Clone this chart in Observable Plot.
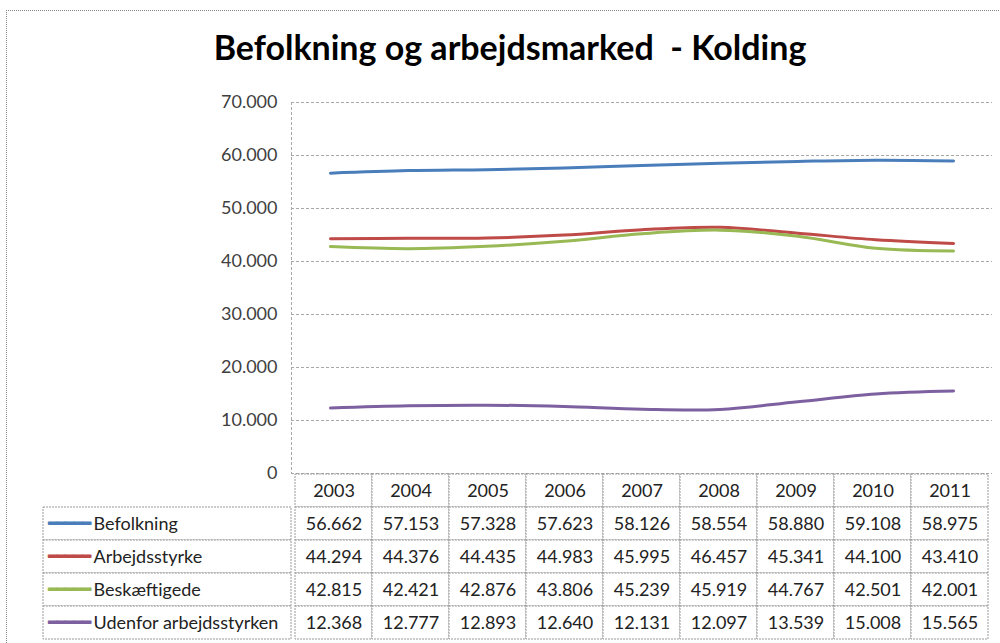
<!DOCTYPE html>
<html>
<head>
<meta charset="utf-8">
<script src="https://cdn.jsdelivr.net/npm/d3@7"></script>
<script src="https://cdn.jsdelivr.net/npm/@observablehq/plot@0.6"></script>
<style>
  html, body { margin: 0; padding: 0; background: #fff; }
  #root { position: relative; width: 1000px; height: 643px; overflow: hidden; font-family: Lato, sans-serif; }
  #border { position: absolute; left: 6px; top: 10px; width: 1100px; height: 800px; border-left: 1px dotted #888; border-top: 1px dotted #888; }
  #title { position: absolute; left: 20px; top: 26px; width: 980px; text-align: center; font-weight: bold; font-size: 34px; color: #000; font-family: Lato, sans-serif; }
  .abs { position: absolute; }
</style>
</head>
<body>
<div id="root">
  <div id="border"></div>
  <div id="title">Befolkning og arbejdsmarked&nbsp; - Kolding</div>
  <div id="chart" class="abs" style="left:0;top:0"></div>
  <div id="legend" class="abs" style="left:0;top:472px"></div>
  <div id="table" class="abs" style="left:290px;top:472px"></div>
</div>
<script>
const years = [2003, 2004, 2005, 2006, 2007, 2008, 2009, 2010, 2011];
const seriesNames = ["Befolkning", "Arbejdsstyrke", "Beskæftigede", "Udenfor arbejdsstyrken"];
const seriesColors = ["#4a7ebb", "#be4b48", "#98b954", "#7d60a0"];
const befolkning = [56662, 57153, 57328, 57623, 58126, 58554, 58880, 59108, 58975];
const arbejdsstyrke = [44294, 44376, 44435, 44983, 45995, 46457, 45341, 44100, 43410];
const beskaeftigede = [42815, 42421, 42876, 43806, 45239, 45919, 44767, 42501, 42001];
const udenfor = [12368, 12777, 12893, 12640, 12131, 12097, 13539, 15008, 15565];
const yTicks = [0, 10000, 20000, 30000, 40000, 50000, 60000, 70000];

const seriesValues = [befolkning, arbejdsstyrke, beskaeftigede, udenfor];
const fmt = v => v === 0 ? "0" : d3.format(",")(v).replace(/,/g, ".");

const long = [];
seriesNames.forEach((name, s) => years.forEach((yr, i) => long.push({name, year: yr, value: seriesValues[s][i]})));

const ext = d3.extent(years);
const xDomain = [ext[0] - 0.5, ext[1] + 0.5];
const color = {domain: seriesNames, range: seriesColors};

const chart = Plot.plot({
  width: 1000, height: 493,
  marginTop: 102, marginBottom: 20, marginLeft: 291, marginRight: 8,
  style: {background: "transparent", fontFamily: "Lato, sans-serif", fontSize: "18px", color: "#404040"},
  x: {domain: xDomain, axis: null},
  y: {domain: [yTicks[0], yTicks[yTicks.length - 1]], ticks: yTicks, tickSize: 0, tickPadding: 14, tickFormat: fmt, label: null},
  color,
  marks: [
    Plot.ruleY(yTicks, {stroke: "#a8a8a8", strokeDasharray: "3,2", strokeWidth: 1}),
    Plot.ruleX([xDomain[0]], {stroke: "#a8a8a8", strokeDasharray: "3,2"}),
    Plot.line(long, {x: "year", y: "value", z: "name", stroke: "name", strokeWidth: 3, curve: "catmull-rom"})
  ]
});
document.getElementById("chart").appendChild(chart);

const rowDomain = ["", ...seriesNames];
const legend = Plot.plot({
  width: 292, height: 171,
  marginTop: 1, marginBottom: 3, marginLeft: 43, marginRight: 1,
  style: {background: "transparent", fontFamily: "Lato, sans-serif", fontSize: "18px"},
  y: {domain: rowDomain, padding: 0, axis: null},
  color,
  marks: [
    Plot.cell(seriesNames, {y: d => d, fill: "white", stroke: "#999", strokeDasharray: "2,1"}),
    Plot.text(seriesNames, {y: d => d, text: () => "━━━━━", fill: d => d, stroke: d => d, strokeWidth: 1.2, frameAnchor: "left", textAnchor: "start", dx: 5, fontFamily: "DejaVu Sans Mono", fontSize: 14}),
    Plot.text(seriesNames, {y: d => d, text: d => d, fill: "#222", frameAnchor: "left", textAnchor: "start", dx: 50})
  ]
});
document.getElementById("legend").appendChild(legend);

const table = Plot.plot({
  width: 710, height: 171,
  marginTop: 1, marginBottom: 3, marginLeft: 1, marginRight: 8,
  style: {background: "transparent", fontFamily: "Lato, sans-serif", fontSize: "18px"},
  x: {domain: years, padding: 0, axis: null},
  y: {domain: rowDomain, padding: 0, axis: null},
  marks: [
    Plot.cell(years, {x: d => d, y: () => "", fill: "white", stroke: "#999", strokeDasharray: "2,1"}),
    Plot.cell(long, {x: "year", y: "name", fill: "white", stroke: "#999", strokeDasharray: "2,1"}),
    Plot.text(years, {x: d => d, y: () => "", text: d => String(d), fill: "#222"}),
    Plot.text(long, {x: "year", y: "name", text: d => fmt(d.value), fill: "#222"})
  ]
});
document.getElementById("table").appendChild(table);
</script>
</body>
</html>
